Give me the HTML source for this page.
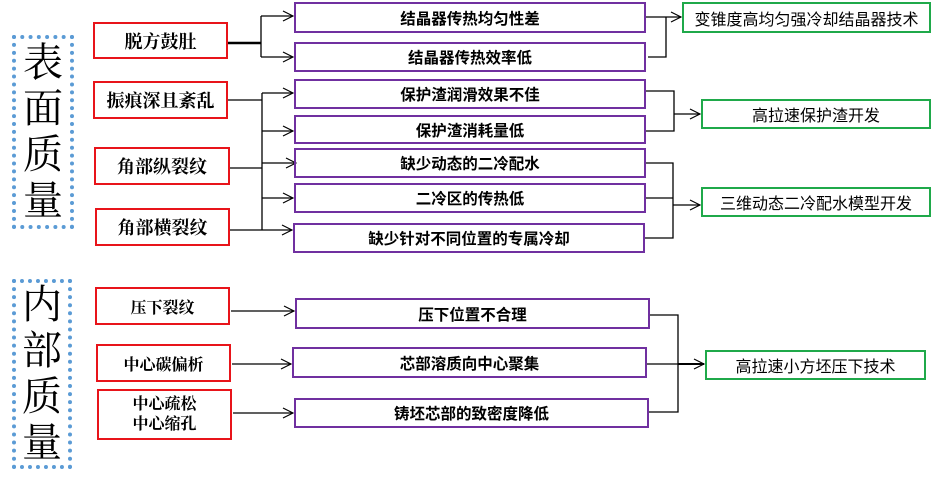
<!DOCTYPE html>
<html><head><meta charset="utf-8"><style>
body{margin:0;width:932px;height:485px;background:#fff;position:relative;overflow:hidden;font-family:"Liberation Sans","Noto Sans CJK SC",sans-serif;}
.b{position:absolute;box-sizing:border-box;display:flex;align-items:center;justify-content:center;text-align:center;color:#000;}
.r{border:2px solid #e8141a;font-family:"Liberation Serif","Noto Serif CJK SC",serif;font-size:18px;font-weight:bold;}
.p{border:2px solid #7030a0;font-size:15.5px;font-weight:bold;}
.g{border:2px solid #1fa94a;font-size:16px;}
.d{position:absolute;box-sizing:border-box;border:4px dotted #5b9bd5;font-family:"Liberation Serif","Noto Serif CJK SC",serif;font-size:40px;line-height:46px;text-align:center;color:#000;display:flex;align-items:center;justify-content:center;}
svg{position:absolute;left:0;top:0;}
</style></head><body>
<svg width="932" height="485" fill="none" stroke="#000" stroke-width="1.3">
<defs><marker id="a" markerWidth="12" markerHeight="12" refX="11" refY="6" orient="auto" markerUnits="userSpaceOnUse"><path d="M1,1 L11,6 L1,11" stroke="#000" stroke-width="1.2" fill="none"/></marker></defs>
<path d="M228,43 H261" stroke-width="2.5"/>
<path d="M261,16 V57"/>
<path d="M261,16 H293" marker-end="url(#a)"/>
<path d="M261,57 H293" marker-end="url(#a)"/>
<path d="M228,100 H262 M230,168 H262 M230,230 H262 M262,93 V230"/>
<path d="M262,93 H293" marker-end="url(#a)"/>
<path d="M262,131 H293" marker-end="url(#a)"/>
<path d="M262,163 H296" marker-end="url(#a)"/>
<path d="M262,198 H293" marker-end="url(#a)"/>
<path d="M262,230 H292" marker-end="url(#a)"/>
<path d="M646,17 H681" marker-end="url(#a)"/>
<path d="M648,57 H666 V17"/>
<path d="M646,91 H674 V131 H646"/>
<path d="M674,114 H700" marker-end="url(#a)"/>
<path d="M645,163 H673 V238 H645 M646,198 H673"/>
<path d="M673,205 H700" marker-end="url(#a)"/>
<path d="M231,311 H294" marker-end="url(#a)"/>
<path d="M232,364 H291" marker-end="url(#a)"/>
<path d="M233,413 H293" marker-end="url(#a)"/>
<path d="M650,315 H678 V412 H649 M647,364 H678"/>
<path d="M678,364 H704" marker-end="url(#a)" stroke-width="2"/>
</svg>
<div class="d" style="left:12px;top:35px;width:62px;height:194px;">表<br>面<br>质<br>量</div>
<div class="d" style="left:12px;top:279px;width:60px;height:190px;">内<br>部<br>质<br>量</div>
<div class="b r" style="left:93px;top:22px;width:135px;height:37px;">脱方鼓肚</div>
<div class="b r" style="left:93px;top:81px;width:135px;height:38px;">振痕深且紊乱</div>
<div class="b r" style="left:94px;top:147px;width:136px;height:38px;">角部纵裂纹</div>
<div class="b r" style="left:95px;top:208px;width:135px;height:38px;">角部横裂纹</div>
<div class="b r" style="left:95px;top:287px;width:135px;height:38px;font-size:16px;">压下裂纹</div>
<div class="b r" style="left:96px;top:344px;width:135px;height:38px;font-size:16px;">中心碳偏析</div>
<div class="b r" style="left:97px;top:389px;width:135px;height:51px;font-size:16px;line-height:20px;">中心疏松<br>中心缩孔</div>
<div class="b p" style="left:294px;top:2px;width:352px;height:31px;">结晶器传热均匀性差</div>
<div class="b p" style="left:294px;top:42px;width:352px;height:30px;">结晶器传热效率低</div>
<div class="b p" style="left:294px;top:79px;width:352px;height:30px;">保护渣润滑效果不佳</div>
<div class="b p" style="left:294px;top:115px;width:352px;height:29px;">保护渣消耗量低</div>
<div class="b p" style="left:294px;top:148px;width:352px;height:30px;">缺少动态的二冷配水</div>
<div class="b p" style="left:294px;top:183px;width:352px;height:30px;">二冷区的传热低</div>
<div class="b p" style="left:293px;top:223px;width:352px;height:30px;">缺少针对不同位置的专属冷却</div>
<div class="b p" style="left:295px;top:298px;width:355px;height:31px;">压下位置不合理</div>
<div class="b p" style="left:292px;top:347px;width:355px;height:31px;">芯部溶质向中心聚集</div>
<div class="b p" style="left:294px;top:398px;width:355px;height:30px;">铸坯芯部的致密度降低</div>
<div class="b g" style="left:682px;top:2px;width:249px;height:31px;">变锥度高均匀强冷却结晶器技术</div>
<div class="b g" style="left:701px;top:99px;width:230px;height:30px;">高拉速保护渣开发</div>
<div class="b g" style="left:701px;top:187px;width:230px;height:30px;">三维动态二冷配水模型开发</div>
<div class="b g" style="left:705px;top:350px;width:221px;height:30px;">高拉速小方坯压下技术</div>
</body></html>
